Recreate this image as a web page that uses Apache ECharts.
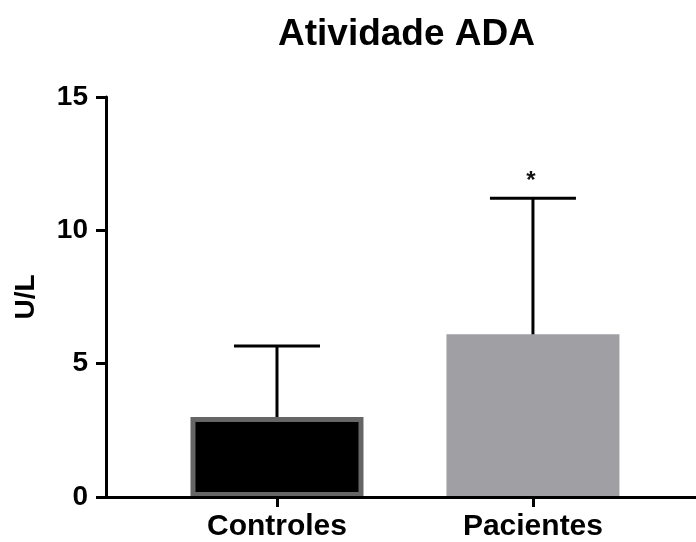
<!DOCTYPE html>
<html>
<head>
<meta charset="utf-8">
<script src="https://cdn.jsdelivr.net/npm/echarts@6/dist/echarts.min.js"></script>
<style>
html,body{margin:0;padding:0;background:#fff;}
#chart{width:696px;height:542px;}
</style>
</head>
<body>
<div id="chart"></div>
<script>
const categories = ['Controles', 'Pacientes'];
const means = [3.0, 6.1];
const sds = [2.66, 5.1];
const significance = ['', '*'];
const yTickValues = [0, 5, 10, 15];

const barColors = ['#000000', '#a09fa4'];
const barBorders = ['#666666', '#a09fa4'];
const barBorderWidths = [5, 0];

const chart = echarts.init(document.getElementById('chart'));
const FONT = 'Liberation Sans, Arial, sans-serif';

const option = {
  animation: false,
  backgroundColor: '#fff',
  title: {
    text: 'Atividade ADA',
    left: 273,
    top: 11,
    textStyle: { fontFamily: FONT, fontWeight: 'bold', fontSize: 37, color: '#000' }
  },
  grid: { left: 106, right: 0, top: 97, bottom: 45 },
  xAxis: {
    type: 'value',
    min: -0.668,
    max: 1.637,
    z: 10,
    splitLine: { show: false },
    axisLine: { show: true, onZero: false, lineStyle: { color: '#000', width: 3 } },
    axisTick: { show: true, customValues: categories.map((c, i) => i), length: 10, lineStyle: { color: '#000', width: 3 } },
    axisLabel: {
      customValues: categories.map((c, i) => i),
      formatter: v => categories[Math.round(v)] || '',
      margin: 15,
      fontFamily: FONT, fontWeight: 'bold', fontSize: 30, color: '#000'
    }
  },
  yAxis: {
    type: 'value',
    min: 0,
    max: 15,
    interval: 5,
    name: 'U/L',
    nameLocation: 'middle',
    nameRotate: 90,
    nameGap: 66,
    nameTextStyle: { fontFamily: FONT, fontWeight: 'bold', fontSize: 28, color: '#000' },
    splitLine: { show: false },
    axisLine: { show: true, onZero: false, lineStyle: { color: '#000', width: 3 } },
    axisTick: { show: true, length: 10, lineStyle: { color: '#000', width: 3 } },
    axisLabel: {
      margin: 18,
      formatter: v => (yTickValues.indexOf(v) >= 0 ? String(v) : ''),
      fontFamily: FONT, fontWeight: 'bold', fontSize: 28, color: '#000'
    }
  },
  series: [
    {
      type: 'bar',
      barWidth: 173,
      data: means.map((m, i) => ({
        value: [i, m],
        itemStyle: { color: barColors[i], borderColor: barBorders[i], borderWidth: barBorderWidths[i] }
      })),
      z: 2
    },
    {
      type: 'custom',
      z: 5,
      data: means.map((m, i) => [i, m, m + sds[i]]),
      renderItem: function (params, api) {
        const x = api.value(0);
        const pBase = api.coord([x, api.value(1)]);
        const pTop = api.coord([x, api.value(2)]);
        const half = 43;
        const style = { stroke: '#000', lineWidth: 3 };
        const children = [
          { type: 'line', shape: { x1: pBase[0], y1: pBase[1], x2: pTop[0], y2: pTop[1] }, style: style },
          { type: 'line', shape: { x1: pTop[0] - half, y1: pTop[1], x2: pTop[0] + half, y2: pTop[1] }, style: style }
        ];
        const sig = significance[params.dataIndex];
        if (sig) {
          children.push({
            type: 'text',
            style: {
              text: sig, x: pTop[0] - 2, y: pTop[1] - 17,
              align: 'center', verticalAlign: 'middle',
              font: 'bold 24px Liberation Sans, Arial, sans-serif', fill: '#111'
            }
          });
        }
        return { type: 'group', children: children };
      }
    }
  ]
};
chart.setOption(option);
</script>
</body>
</html>
